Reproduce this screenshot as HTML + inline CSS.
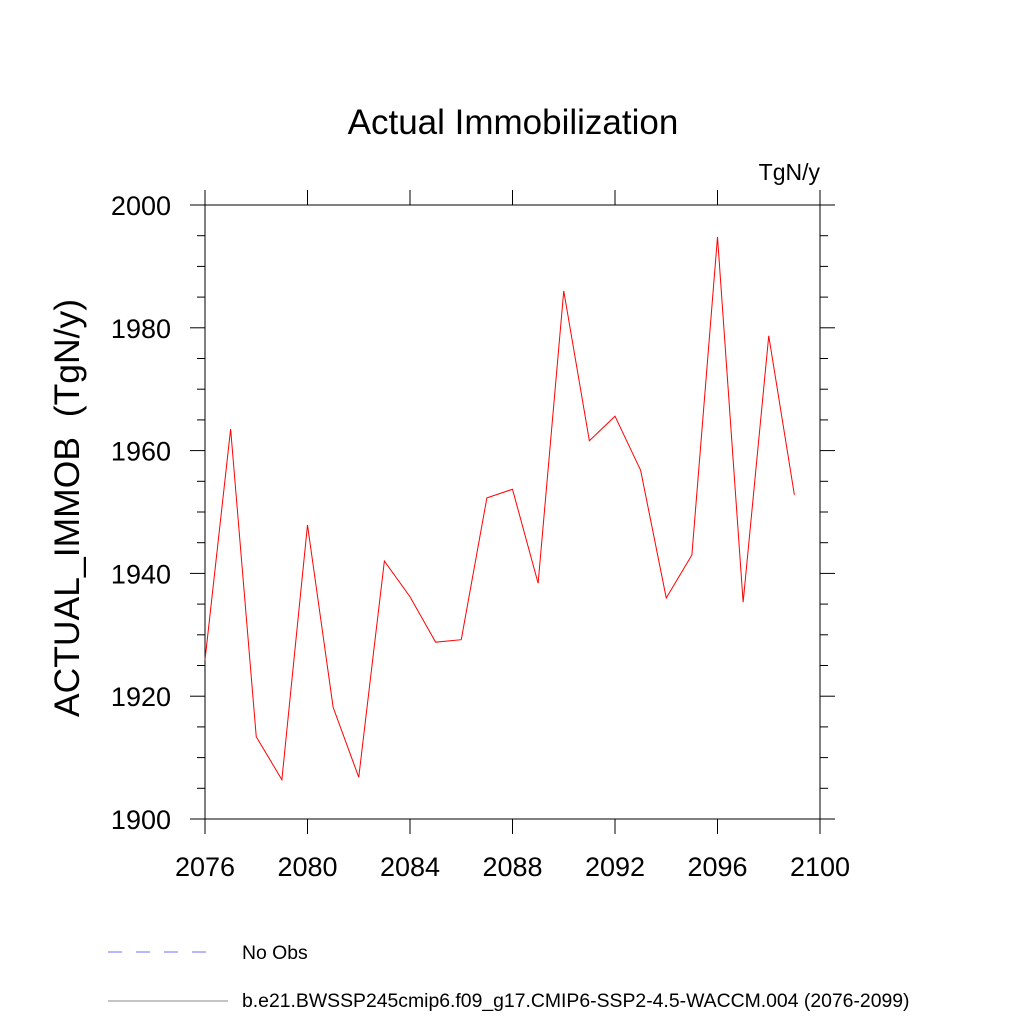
<!DOCTYPE html>
<html><head><meta charset="utf-8"><style>body{margin:0;background:#fff}svg{display:block}text{font-family:"Liberation Sans",sans-serif;fill:#000;white-space:pre}</style></head>
<body>
<svg id="c" width="1024" height="1024">
<text x="513" y="134" font-size="35" text-anchor="middle">Actual Immobilization</text>
<text x="820" y="180" font-size="23" text-anchor="end">TgN/y</text>
<text transform="translate(79,508) rotate(-90)" font-size="35.5" text-anchor="middle" xml:space="preserve">ACTUAL_IMMOB  (TgN/y)</text>
<g id="axes"></g>
<g id="series"></g>
<line x1="108" y1="952" x2="215" y2="952" stroke="#6f6fff" stroke-width="1" stroke-dasharray="14,14"/>
<text x="242" y="959" font-size="19.4">No Obs</text>
<line x1="108" y1="1001" x2="228" y2="1001" stroke="#888" stroke-width="1"/>
<text x="242" y="1007" font-size="19.4">b.e21.BWSSP245cmip6.f09_g17.CMIP6-SSP2-4.5-WACCM.004 (2076-2099)</text>
</svg>
<script>
const years=[2076,2077,2078,2079,2080,2081,2082,2083,2084,2085,2086,2087,2088,2089,2090,2091,2092,2093,2094,2095,2096,2097,2098,2099];
const values=[1925.9,1963.5,1913.4,1906.4,1947.9,1918.2,1906.8,1942.0,1936.2,1928.8,1929.2,1952.3,1953.7,1938.4,1986.0,1961.6,1965.6,1956.8,1936.0,1943.0,1994.8,1935.3,1978.7,1952.8];
const xTicks=[2076,2080,2084,2088,2092,2096,2100];
const yTicks=[1900,1920,1940,1960,1980,2000];
const X0=205,X1=820,Y0=819,Y1=205;
const xs=v=>X0+(v-2076)/24*(X1-X0);
const ys=v=>Y0-(v-1900)/100*(Y0-Y1);
const NS='http://www.w3.org/2000/svg';
const ax=document.getElementById('axes');
function mk(p,tag,a){const e=document.createElementNS(NS,tag);for(const k in a)e.setAttribute(k,a[k]);p.appendChild(e);return e;}
const fr=mk(ax,'rect',{x:X0,y:Y1,width:X1-X0,height:Y0-Y1,fill:'none',stroke:'#000','stroke-width':1});


xTicks.forEach(t=>{const x=xs(t);
mk(ax,'line',{x1:x,y1:Y0,x2:x,y2:Y0+15,stroke:'#000'});mk(ax,'line',{x1:x,y1:Y1,x2:x,y2:Y1-15,stroke:'#000'});});
for(let v=1900;v<=2000;v+=5){const maj=v%20===0;const L=maj?15:8;const y=ys(v);
mk(ax,'line',{x1:X0,y1:y,x2:X0-L,y2:y,stroke:'#000'});mk(ax,'line',{x1:X1,y1:y,x2:X1+L,y2:y,stroke:'#000'});}
xTicks.forEach(t=>{const e=mk(ax,'text',{x:xs(t),y:876,'font-size':27,'text-anchor':'middle'});e.textContent=t;

});
yTicks.forEach(t=>{const e=mk(ax,'text',{x:171,y:ys(t)+10,'font-size':27,'text-anchor':'end'});e.textContent=t;

});
const pl=mk(document.getElementById('series'),'polyline',{points:years.map((y,i)=>xs(y)+','+ys(values[i])).join(' '),fill:'none',stroke:'#ff0000','stroke-width':1});


</script>
</body></html>
